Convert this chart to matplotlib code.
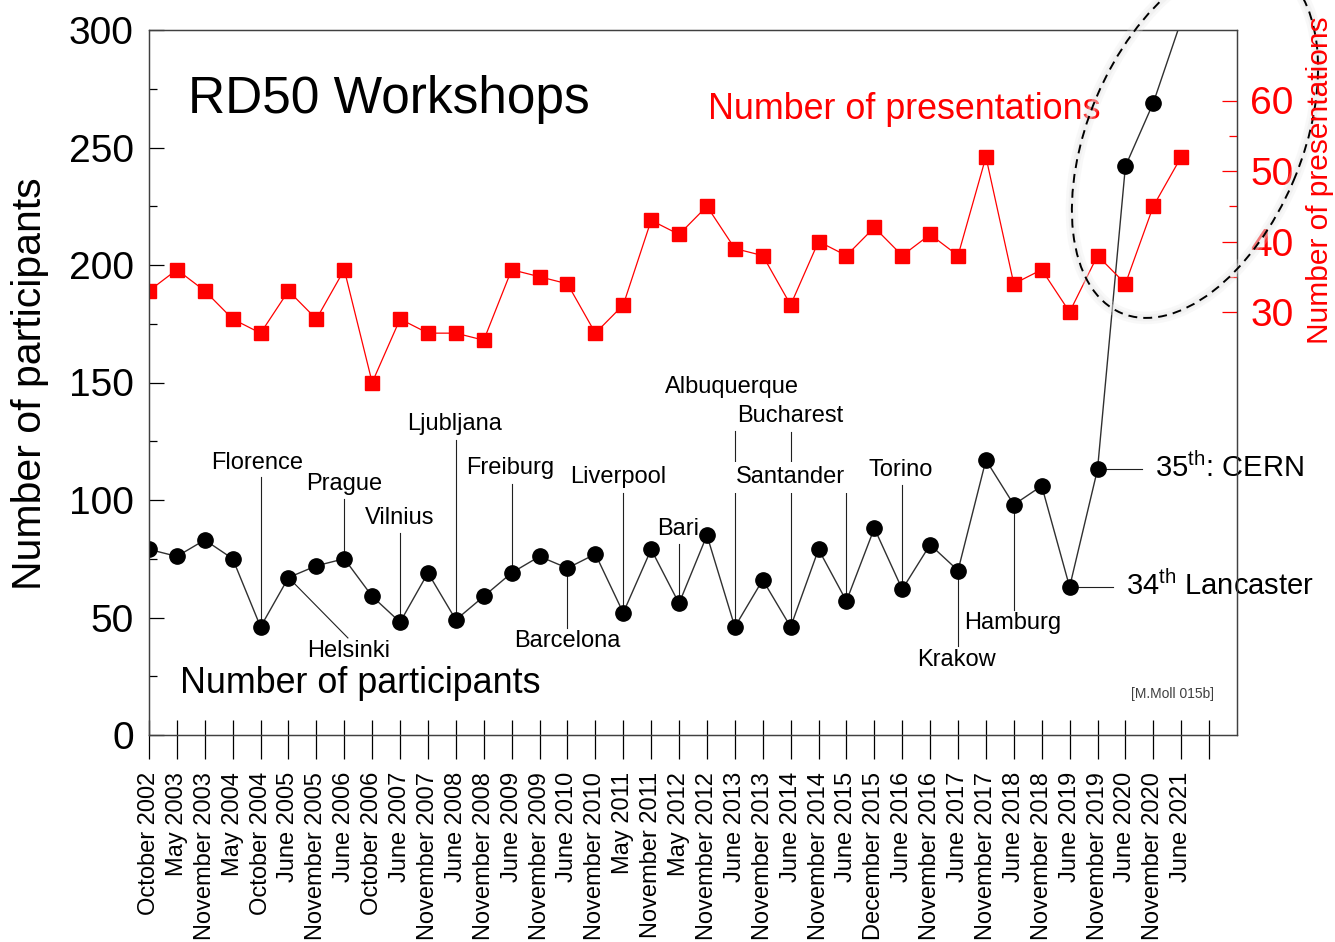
import numpy as np
import matplotlib
matplotlib.use("Agg")
import matplotlib.pyplot as plt
from matplotlib.patches import Ellipse
from matplotlib.transforms import IdentityTransform

plt.rcParams['font.family'] = ['Liberation Sans', 'DejaVu Sans']
plt.rcParams['mathtext.fontset'] = 'custom'
plt.rcParams['mathtext.rm'] = 'Liberation Sans'
plt.rcParams['mathtext.it'] = 'Liberation Sans:italic'
plt.rcParams['mathtext.bf'] = 'Liberation Sans:bold'

# workshop dates
dates = ['October 2002', 'May 2003', 'November 2003', 'May 2004', 'October 2004',
         'June 2005', 'November 2005', 'June 2006', 'October 2006', 'June 2007',
         'November 2007', 'June 2008', 'November 2008', 'June 2009', 'November 2009',
         'June 2010', 'November 2010', 'May 2011', 'November 2011', 'May 2012',
         'November 2012', 'June 2013', 'November 2013', 'June 2014', 'November 2014',
         'June 2015', 'December 2015', 'June 2016', 'November 2016', 'June 2017',
         'November 2017', 'June 2018', 'November 2018', 'June 2019', 'November 2019',
         'June 2020', 'November 2020', 'June 2021']

participants = [79, 76, 83, 75, 46, 67, 72, 75, 59, 48,
                69, 49, 59, 69, 76, 71, 77, 52, 79, 56,
                85, 46, 66, 46, 79, 57, 88, 62, 81, 70,
                117, 98, 106, 63, 113, 242, 269, 304]

presentations = [33, 36, 33, 29, 27, 33, 29, 36, 20, 29,
                 27, 27, 26, 36, 35, 34, 27, 31, 43, 41,
                 45, 39, 38, 31, 40, 38, 42, 38, 41, 38,
                 52, 34, 36, 30, 38, 34, 45, 52]

# place names and the workshop they belong to
places = ['Florence', 'Prague', 'Vilnius', 'Ljubljana', 'Freiburg', 'Liverpool',
          'Helsinki', 'Barcelona', 'Bari', 'Albuquerque', 'Bucharest', 'Santander',
          'Torino', 'Krakow', 'Hamburg']
place_idx = [4, 7, 9, 11, 13, 17, 5, 15, 19, 21, 23, 25, 27, 29, 31]

# label layout: text x, text baseline y, end of leader line (x, y)
label_pos = [(3.87, 113.2, 4, 109.8), (7.0, 104.3, 7, 100.4), (9.0, 89.8, 9, 86.0),
             (10.96, 129.8, 11, 125.5), (12.95, 111.0, 13, 106.8), (16.83, 107.2, 17, 103.0),
             (7.16, 33.3, 7.13, 41.3), (15.0, 37.4, 15, 45.5), (18.97, 85.1, 19, 81.3),
             (20.9, 145.7, 21, 129.4), (23.0, 133.0, 23, 128.9), (22.98, 107.1, 25, 104.7),
             (26.95, 110.2, 27, 106.4), (28.93, 29.4, 29, 37.9), (30.96, 45.0, 31, 53.2)]

W, H = 1335, 942
fig = plt.figure(figsize=(W / 100, H / 100), dpi=100)
ax = fig.add_axes([149 / W, 207 / H, 1088 / W, 705 / H])
x = np.arange(len(dates))

ax.plot(x, participants, color='#303030', lw=1, marker='o', ms=11,
        mfc='black', mec='black', zorder=3)
ax.set_xlim(0, 39)
ax.set_ylim(0, 300)

# ticks
ax.set_yticks(np.arange(0, 301, 50))
ax.set_yticks(np.arange(25, 300, 50), minor=True)
ax.tick_params(axis='y', which='major', direction='in', length=10.5, width=0.9,
               labelsize=28, pad=11, right=False)
ax.tick_params(axis='y', which='minor', direction='in', length=5.5, width=0.9, right=False)
ax.set_xticks(np.arange(39))
ax.set_xticklabels(dates + [''])
ax.xaxis.remove_overlapping_locs = False
ax.set_xticks(np.arange(39), minor=True)
ax.tick_params(axis='x', which='major', direction='out', length=17.5, width=0.9,
               labelsize=17, pad=9, labelrotation=90)
ax.tick_params(axis='x', which='minor', direction='in', length=11, width=0.9)

ax2 = ax.twinx()
ax2.plot(x, presentations, color='red', lw=0.9, marker='s', ms=10.5,
         mfc='red', mec='red')
ax2.set_ylim(-30, 70)
ax2.set_yticks([30, 40, 50, 60])
ax2.set_yticks([35, 45, 55], minor=True)
ax2.tick_params(axis='y', which='major', direction='in', length=10.5, width=0.9,
                colors='red', labelsize=28, pad=9.5)
ax2.tick_params(axis='y', which='minor', direction='in', length=5.5, width=0.9, color='red')

for a in (ax, ax2):
    for s in a.spines.values():
        s.set_color('#404040')
        s.set_linewidth(0.9)

# place labels with leader lines
for name, i, (tx, ty, lx, ly) in zip(places, place_idx, label_pos):
    ax.plot([i, lx], [participants[i], ly], color='#202020', lw=0.8, zorder=2)
    kw = {}
    if name == 'Santander':
        kw['bbox'] = dict(facecolor='white', edgecolor='none', pad=3)
    ax.text(tx, ty, name, fontsize=17, ha='center', va='baseline', zorder=4, **kw)

# 34th / 35th
ax.plot([34, 35.59], [participants[34]] * 2, color='#202020', lw=0.8, zorder=2)
ax.plot([33, 34.56], [participants[33]] * 2, color='#202020', lw=0.8, zorder=2)
ax.text(36.07, 109.8, r'35$^{\rm th}$: CERN', fontsize=21, va='baseline', clip_on=False)
ax.text(35.03, 59.6, r'34$^{\rm th}$ Lancaster', fontsize=21, va='baseline', clip_on=False)
ax.text(35.2, 15.7, '[M.Moll 015b]', fontsize=10, color='#404040', va='baseline')

ax.text(0.0358, 0.882, 'RD50 Workshops', transform=ax.transAxes, fontsize=37, va='baseline')
ax.text(0.5138, 0.8733, 'Number of presentations', transform=ax.transAxes,
        fontsize=25.8, color='red', va='baseline')
ax.text(0.0285, 0.0596, 'Number of participants', transform=ax.transAxes,
        fontsize=25.8, va='baseline')

fig.text(30 / W, 1 - 384 / H, 'Number of participants', rotation=90,
         ha='center', va='center', fontsize=29.5)
fig.text(1320 / W, 1 - 180 / H, 'Number of presentations', rotation=90,
         ha='center', va='center', fontsize=21.5, color='red')

# dashed ellipse round the last workshops (pixel coordinates)
ctr = (1195, H - 139)
for lw, a in ((9, 0.25), (5, 0.35)):
    fig.add_artist(Ellipse(ctr, width=378, height=214, angle=67,
                           transform=IdentityTransform(), fill=False,
                           lw=lw, ec='#e6e6e6', alpha=a))
fig.add_artist(Ellipse(ctr, width=378, height=214, angle=67,
                       transform=IdentityTransform(), fill=False,
                       lw=1.4, ec='black', ls=(0, (4.6, 3.1))))

fig.savefig('out.png', dpi=100)
